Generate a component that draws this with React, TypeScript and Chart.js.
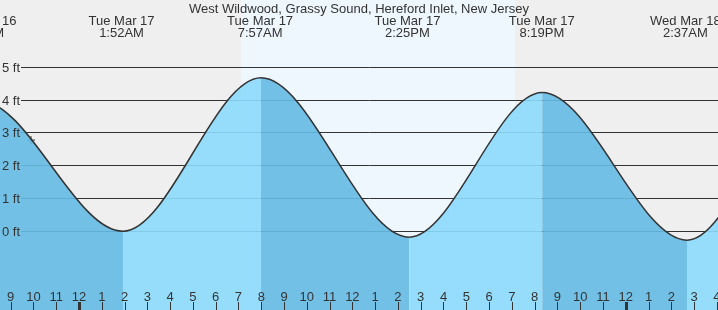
import React, { useEffect, useRef } from "react";
import { Chart, registerables } from "chart.js";

Chart.register(...registerables);

// Tide turning points (hours since Tue Mar 17 00:00, height in ft).
// The first two and last two entries are neighbouring extremes outside the visible window.
const tideHours = [-10.6, -4.35, 1.93, 7.99, 14.49, 20.33, 26.69, 32.5, 38.9];
const tideFeet = [0.0, 3.98, 0.0, 4.68, -0.18, 4.23, -0.27, 4.6, 0.0];

// "now" marker
const markerHour = [-2.107];
const markerFeet = [2.78];

// High / low tide events
const eventHours = [-4.27, 1.867, 7.95, 14.417, 20.317, 26.617];
const eventDays = ["Mon Mar 16", "Tue Mar 17", "Tue Mar 17", "Tue Mar 17", "Tue Mar 17", "Wed Mar 18"];
const eventTimes = ["7:44PM", "1:52AM", "7:57AM", "2:25PM", "8:19PM", "2:37AM"];

// sunrise / sunset (hours)
const daylight = [7.11, 19.14];

// axis ticks
const feetTicks = [0, 1, 2, 3, 4, 5];
const feetLabels = ["0 ft", "1 ft", "2 ft", "3 ft", "4 ft", "5 ft"];
const firstTickHour = -3;
const hourLabels = ["9", "10", "11", "12", "1", "2", "3", "4", "5", "6", "7", "8", "9", "10", "11", "12", "1", "2", "3", "4", "5", "6", "7", "8", "9", "10", "11", "12", "1", "2", "3", "4"];
const midnightHours = [0, 24];

const title = "West Wildwood, Grassy Sound, Hereford Inlet, New Jersey";

const X_MIN = -3.468;
const X_MAX = 28.05;
const Y_MIN = -2.4;
const Y_MAX = 7.05;

const LIGHT = "rgba(140,218,253,0.9)";
const DARK = "rgba(100,186,227,0.9)";
const TEXT = "#333";
const FONT = '13px "Liberation Sans", Arial, sans-serif';

const tidePlugin = {
  id: "tideDecor",
  beforeDraw(chart: any) {
    const { ctx, width, height } = chart;
    const x = chart.scales.x;
    const y = chart.scales.y;
    ctx.save();
    ctx.fillStyle = "#efefef";
    ctx.fillRect(0, 0, width, height);
    const d0 = x.getPixelForValue(daylight[0]);
    const d1 = x.getPixelForValue(daylight[1]);
    ctx.fillStyle = "#eef6fe";
    ctx.fillRect(d0, 0, d1 - d0, height);
    ctx.strokeStyle = "#333";
    ctx.lineWidth = 1;
    for (const v of feetTicks) {
      const py = Math.floor(y.getPixelForValue(v)) + 0.5;
      ctx.beginPath();
      ctx.moveTo(21, py);
      ctx.lineTo(width, py);
      ctx.stroke();
    }
    ctx.restore();
  },
  afterDatasetsDraw(chart: any) {
    const { ctx, width, height } = chart;
    const x = chart.scales.x;
    const y = chart.scales.y;
    ctx.save();
    ctx.fillStyle = TEXT;
    ctx.font = FONT;
    ctx.textBaseline = "alphabetic";
    // y labels
    ctx.textAlign = "left";
    feetTicks.forEach((v, i) => {
      ctx.fillText(feetLabels[i], 2, y.getPixelForValue(v) + 4.5);
    });
    // title
    ctx.textAlign = "center";
    ctx.fillText(title, width / 2, 12.5);
    // event labels
    eventHours.forEach((h, i) => {
      const px = x.getPixelForValue(h);
      ctx.fillText(eventDays[i], px, 24.5);
      ctx.fillText(eventTimes[i], px, 36.5);
    });
    // hour labels and ticks
    ctx.strokeStyle = "#333";
    hourLabels.forEach((lab, i) => {
      const h = firstTickHour + i;
      const px = x.getPixelForValue(h);
      ctx.fillText(lab, px, 300.5);
      if (midnightHours.includes(h)) {
        ctx.fillRect(Math.round(px) - 1, 302, 3, height - 302);
      } else {
        ctx.beginPath();
        ctx.lineWidth = 1;
        ctx.moveTo(Math.round(px) + 0.5, 302);
        ctx.lineTo(Math.round(px) + 0.5, height);
        ctx.stroke();
      }
    });
    ctx.restore();
  },
};

export default function App() {
  const ref = useRef<HTMLCanvasElement | null>(null);
  useEffect(() => {
    document.body.style.margin = "0";
    const canvas = ref.current;
    if (!canvas) return;
    const chart = new Chart(canvas, {
      type: "line",
      data: {
        datasets: [
          {
            type: "line",
            data: tideHours.map((h, i) => ({ x: h, y: tideFeet[i] })),
            borderColor: "#333",
            borderWidth: 1.5,
            backgroundColor: LIGHT,
            fill: "start",
            pointRadius: 0,
            cubicInterpolationMode: "monotone",
            segment: {
              backgroundColor: (c: any) => (c.p1.parsed.y >= c.p0.parsed.y ? LIGHT : DARK),
            },
          } as any,
          {
            type: "scatter",
            data: markerHour.map((h, i) => ({ x: h, y: markerFeet[i] })),
            pointStyle: "cross",
            pointRadius: 4,
            borderColor: "#333",
            borderWidth: 1,
            backgroundColor: "#333",
          } as any,
        ],
      },
      options: {
        animation: false,
        responsive: false,
        devicePixelRatio: 1,
        layout: { padding: 0, autoPadding: false },
        plugins: { legend: { display: false }, tooltip: { enabled: false } },
        scales: {
          x: { type: "linear", min: X_MIN, max: X_MAX, display: false },
          y: { type: "linear", min: Y_MIN, max: Y_MAX, display: false },
        },
      },
      plugins: [tidePlugin],
    });
    return () => chart.destroy();
  }, []);
  return (
    <div style={{ width: 718, height: 310 }}>
      <canvas ref={ref} width={718} height={310} style={{ display: "block", width: 718, height: 310 }} />
    </div>
  );
}
